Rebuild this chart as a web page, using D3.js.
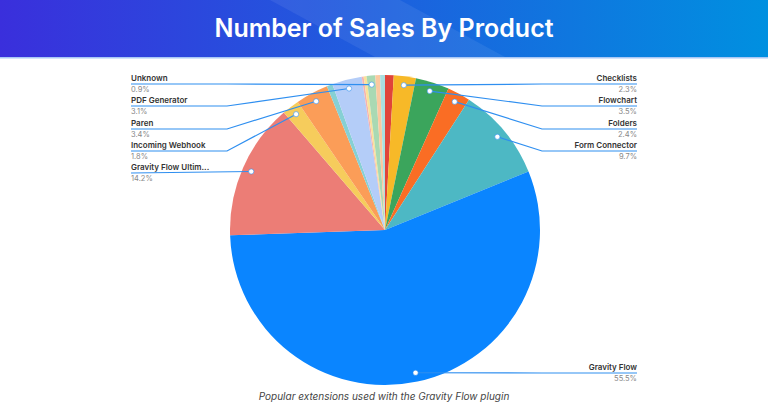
<!DOCTYPE html><html><head><meta charset="utf-8">
<script src="https://cdn.jsdelivr.net/npm/d3@7"></script>
<style>body{margin:0;background:#fff}svg{display:block}</style></head><body>
<svg id="c" width="768" height="410"></svg>
<script>
const names=["Red","Checklists","Flowchart","Folders","Form Connector","Gravity Flow","Gravity Flow Ultim...","Incoming Webhook","Paren","Teal","PDF Generator","Pink","Yellow","Unknown","Peach","LightTeal"];
const values=[0.9,2.3,3.5,2.4,9.7,55.5,14.2,1.8,3.4,0.6,3.1,0.2,0.3,0.9,0.5,0.5];
const colors=["#e0443a","#f7b928","#3ba55c","#fa6d24","#4db8c4","#0a85ff","#ec7d76","#f6cc5c","#fb9d58","#86d0d4","#b4cdf8","#f4b3b0","#f9e29a","#a9d9b3","#fbc9a0","#a9dfe0"];
const rightLabels=[["Checklists",84],["Flowchart",106],["Folders",129],["Form Connector",151]];
const leftLabels=[["Unknown",84],["PDF Generator",106],["Paren",129],["Incoming Webhook",151],["Gravity Flow Ultim...",173]];
const svg=d3.select("#c");
const defs=svg.append("defs");
const g=defs.append("linearGradient").attr("id","hg");
g.append("stop").attr("offset","0").attr("stop-color","#3a2fdc");
g.append("stop").attr("offset","1").attr("stop-color","#0090e0");
svg.append("rect").attr("width",768).attr("height",57).attr("fill","url(#hg)");
svg.append("polygon").attr("points","270,0 400,0 505,57 375,57").attr("fill","#fff").attr("opacity",0.07);
svg.append("rect").attr("y",57).attr("width",768).attr("height",1.5).attr("fill","#a9c8f5");
svg.append("text").attr("x",384).attr("y",37).attr("text-anchor","middle").attr("fill","#fff")
 .attr("font-family","Inter, Lato, sans-serif").attr("font-weight",600).attr("font-size",25).text("Number of Sales By Product");
const cx=385,cy=230,r=155;
const pie=d3.pie().sort(null).value(d=>d)(values);
const arc=d3.arc().innerRadius(0).outerRadius(r);
const pg=svg.append("g").attr("transform",`translate(${cx},${cy})`);
pg.selectAll("path").data(pie).join("path").attr("d",arc).attr("fill",(d,i)=>colors[i]);
const dotArc=d3.arc().innerRadius(146).outerRadius(146);
function dot(name){const i=names.indexOf(name);const p=dotArc.centroid(pie[i]);return [cx+p[0],cy+p[1]];}
const lg=svg.append("g");
function label(name,pctIdx,y,side){
  const [dx,dy]=dot(name);
  let pts;
  if(side==="r") pts=[[dx,dy],[542,y],[637,y]];
  else pts=[[dx,dy],[227,y],[131,y]];
  if(name==="Gravity Flow Ultim...") pts=[[dx,dy],[131,y]];
  lg.append("polyline").attr("points",pts.map(p=>p.join(",")).join(" ")).attr("fill","none").attr("stroke","#2f8ff0").attr("stroke-width",1.2);
  lg.append("circle").attr("cx",dx).attr("cy",dy).attr("r",2.6).attr("fill","#fff").attr("stroke","#2f8ff0").attr("stroke-width",0.6);
  const x=side==="r"?637:131, a=side==="r"?"end":"start";
  lg.append("text").attr("x",x).attr("y",y-3).attr("text-anchor",a).attr("font-family","Inter, Lato, sans-serif").attr("font-size",8).attr("font-weight",600).attr("fill","#333").text(name);
  lg.append("text").attr("x",x).attr("y",y+8).attr("text-anchor",a).attr("font-family","Inter, Lato, sans-serif").attr("font-size",7.5).attr("fill","#888").text(values[names.indexOf(name)]+"%");
}
rightLabels.forEach(([n,y])=>label(n,0,y,"r"));
leftLabels.forEach(([n,y])=>label(n,0,y,"l"));
label("Gravity Flow",0,373,"r");
svg.append("text").attr("x",384).attr("y",400).attr("text-anchor","middle").attr("font-family","Inter, Lato, sans-serif").attr("font-style","italic").attr("font-size",10).attr("fill","#444").text("Popular extensions used with the Gravity Flow plugin");
</script></body></html>
